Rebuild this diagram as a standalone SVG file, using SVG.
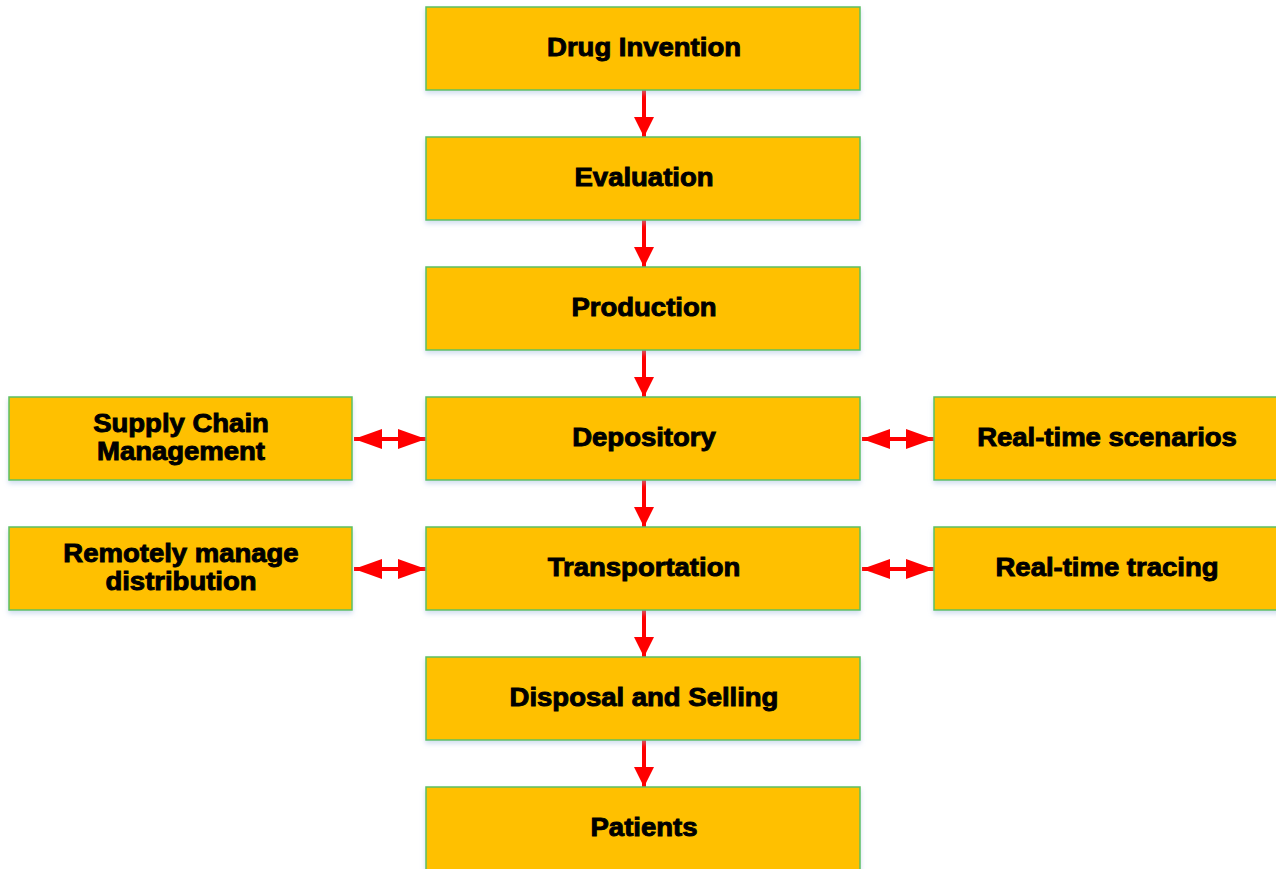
<svg xmlns="http://www.w3.org/2000/svg" width="1276" height="869" viewBox="0 0 1276 869">
  <defs>
    <filter id="shadow" x="-5%" y="-10%" width="110%" height="130%">
      <feDropShadow dx="0" dy="3" stdDeviation="2.5" flood-color="#9bb8de" flood-opacity="0.45"/>
    </filter>
    <!-- short head for the vertical flow arrows -->
    <marker id="head" viewBox="0 0 10 10" refX="10" refY="5" markerWidth="5" markerHeight="5" markerUnits="strokeWidth" orient="auto-start-reverse">
      <path d="M0,0 L10,5 L0,10 z" fill="#ff0000"/>
    </marker>
    <!-- longer head for the side links -->
    <marker id="headLong" viewBox="0 0 14 10" refX="14" refY="5" markerWidth="7" markerHeight="5" markerUnits="strokeWidth" orient="auto-start-reverse">
      <path d="M0,0 L14,5 L0,10 z" fill="#ff0000"/>
    </marker>
  </defs>
  <style>
    .box { fill: #ffc000; stroke: #5cc060; stroke-width: 1.5; filter: url(#shadow); }
    .lbl { font-family: "Liberation Sans", Arial, sans-serif; font-weight: bold; font-size: 25px; fill: #000; stroke: #000; stroke-width: 0.9; text-anchor: middle; }
    .conn { stroke: #ff0000; stroke-width: 4; fill: none; }
  </style>
  <rect width="1276" height="869" fill="#ffffff"/>

  <g id="connectors">
    <line class="conn" x1="644" y1="90" x2="644" y2="137" marker-end="url(#head)"/>
    <line class="conn" x1="644" y1="220" x2="644" y2="267" marker-end="url(#head)"/>
    <line class="conn" x1="644" y1="350" x2="644" y2="397" marker-end="url(#head)"/>
    <line class="conn" x1="644" y1="480" x2="644" y2="527" marker-end="url(#head)"/>
    <line class="conn" x1="644" y1="610" x2="644" y2="657" marker-end="url(#head)"/>
    <line class="conn" x1="644" y1="740" x2="644" y2="787" marker-end="url(#head)"/>
    <line class="conn" x1="354" y1="439" x2="426" y2="439" marker-start="url(#headLong)" marker-end="url(#headLong)"/>
    <line class="conn" x1="862" y1="439" x2="934" y2="439" marker-start="url(#headLong)" marker-end="url(#headLong)"/>
    <line class="conn" x1="354" y1="569" x2="426" y2="569" marker-start="url(#headLong)" marker-end="url(#headLong)"/>
    <line class="conn" x1="862" y1="569" x2="934" y2="569" marker-start="url(#headLong)" marker-end="url(#headLong)"/>
  </g>

  <g id="drug-invention">
    <rect class="box" x="426" y="7" width="434" height="83"/>
    <text class="lbl" transform="translate(644 56) scale(1.1 1)">Drug Invention</text>
  </g>
  <g id="evaluation">
    <rect class="box" x="426" y="137" width="434" height="83"/>
    <text class="lbl" transform="translate(644 186) scale(1.1 1)">Evaluation</text>
  </g>
  <g id="production">
    <rect class="box" x="426" y="267" width="434" height="83"/>
    <text class="lbl" transform="translate(644 316) scale(1.1 1)">Production</text>
  </g>
  <g id="depository">
    <rect class="box" x="426" y="397" width="434" height="83"/>
    <text class="lbl" transform="translate(644 446) scale(1.1 1)">Depository</text>
  </g>
  <g id="transportation">
    <rect class="box" x="426" y="527" width="434" height="83"/>
    <text class="lbl" transform="translate(644 576) scale(1.1 1)">Transportation</text>
  </g>
  <g id="disposal-selling">
    <rect class="box" x="426" y="657" width="434" height="83"/>
    <text class="lbl" transform="translate(644 706) scale(1.1 1)">Disposal and Selling</text>
  </g>
  <g id="patients">
    <rect class="box" x="426" y="787" width="434" height="90"/>
    <text class="lbl" transform="translate(644 836) scale(1.1 1)">Patients</text>
  </g>

  <g id="supply-chain">
    <rect class="box" x="9" y="397" width="343" height="83"/>
    <text class="lbl" transform="translate(181 432) scale(1.1 1)">Supply Chain</text>
    <text class="lbl" transform="translate(181 460) scale(1.1 1)">Management</text>
  </g>
  <g id="remote-distribution">
    <rect class="box" x="9" y="527" width="343" height="83"/>
    <text class="lbl" transform="translate(181 562) scale(1.1 1)">Remotely manage</text>
    <text class="lbl" transform="translate(181 590) scale(1.1 1)">distribution</text>
  </g>
  <g id="realtime-scenarios">
    <rect class="box" x="934" y="397" width="350" height="83"/>
    <text class="lbl" transform="translate(1107 446) scale(1.1 1)">Real-time scenarios</text>
  </g>
  <g id="realtime-tracing">
    <rect class="box" x="934" y="527" width="350" height="83"/>
    <text class="lbl" transform="translate(1107 576) scale(1.1 1)">Real-time tracing</text>
  </g>
</svg>
